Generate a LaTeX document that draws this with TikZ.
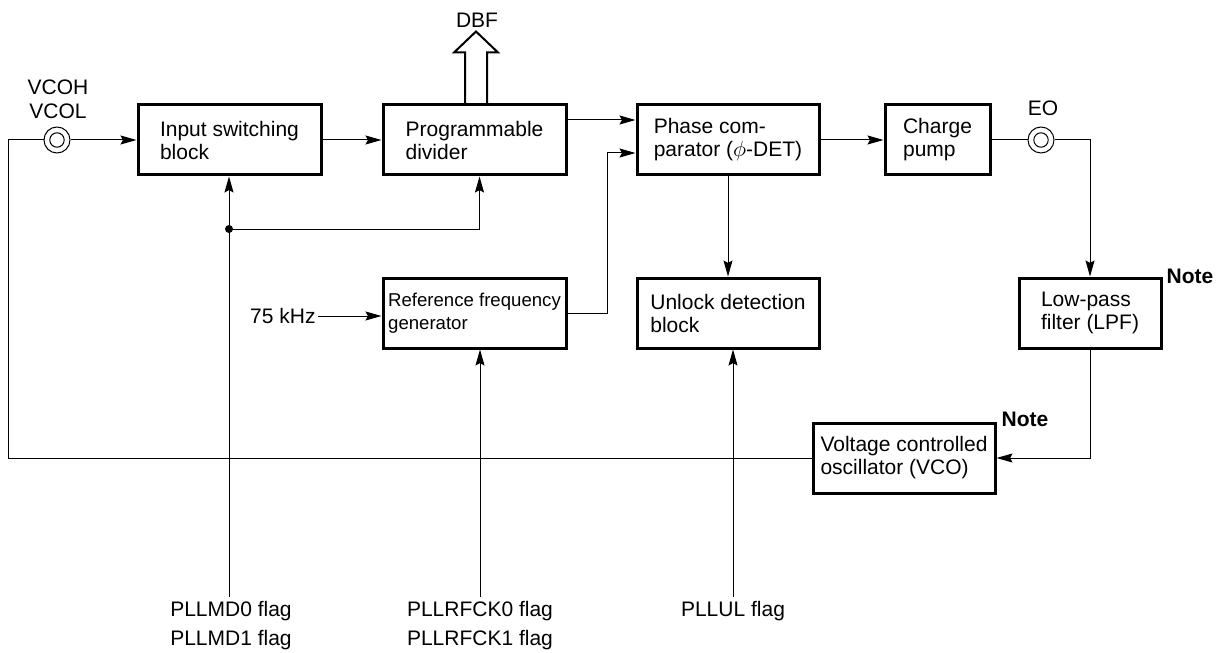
\documentclass[tikz,border=0pt]{standalone}
\usepackage{fontspec}
\setmainfont{Liberation Sans}
\usepackage{tikz}
\usetikzlibrary{arrows.meta}

\begin{document}
\begin{tikzpicture}[
  x=0.5pt, y=-0.5pt,
  block/.style={rectangle, draw, line width=1.5pt, minimum height=35pt, inner sep=0pt, align=left, font=\fontsize{10.5}{11.5}\selectfont},
  jack/.style={circle, draw, line width=0.5pt, minimum size=13pt, inner sep=0pt, path picture={\draw[line width=0.5pt] (path picture bounding box.center) circle (3.6pt);}},
  flag/.style={align=center, inner sep=2pt, font=\fontsize{10.5}{14.5}\selectfont},
  lbl/.style={align=center, inner sep=1pt, font=\fontsize{10.5}{12}\selectfont},
  note/.style={inner sep=1pt, font=\fontsize{10.5}{12}\selectfont\bfseries},
  wire/.style={line width=0.5pt},
  >={Stealth[length=8pt,width=4.5pt,inset=1.2pt]}
]
  \useasboundingbox (0,0) rectangle (1218,652);

  % Top row
  \node[block, minimum width=91.5pt] (inswitch) at (229.5,140) {Input switching\\block};
  \node[block, minimum width=91.5pt] (divider) at (474.5,140) {Programmable\\divider};
  \node[block, minimum width=91pt] (phasecomp) at (728,140) {Phase com-\\parator ($\phi$-DET)};
  \node[block, minimum width=52.5pt] (chargepump) at (937.5,140) {Charge\\pump};

  % Middle row
  \node[block, minimum width=91.5pt, font=\fontsize{9.3}{11.5}\selectfont] (refgen) at (474.5,313) {Reference frequency\\generator};
  \node[block, minimum width=91pt] (unlock) at (728,313) {Unlock detection\\block};
  \node[block, minimum width=71pt] (lpf) at (1090,313) {Low-pass\\filter (LPF)};
  \node[block, minimum width=91pt] (vco) at (904,458) {Voltage controlled\\oscillator (VCO)};

  % Pins and labels
  \node[jack] (vcoh) at (57,140) {};
  \node[lbl] at (58,99) {VCOH\\VCOL};
  \node[jack] (eo) at (1041,140) {};
  \node[lbl] at (1043,108) {EO};
  \node[lbl] at (477,20) {DBF};
  \node[note] at (1190,276) {Note};
  \node[note] at (1025,419) {Note};
  \node[lbl, anchor=east] (clk) at (318,316) {75 kHz};

  % Flags
  \node[flag, anchor=north] (mdflag) at (231,597) {PLLMD0 flag\\PLLMD1 flag};
  \node[flag, anchor=north] (rfflag) at (480,597) {PLLRFCK0 flag\\PLLRFCK1 flag};
  \node[flag, anchor=north] (ulflag) at (733,597) {PLLUL flag};

  \coordinate (mdjoin) at (229,229);
  \coordinate (rfturn) at (607,313);
  \coordinate (fbcorner) at (8,458);

  % Signal path
  \draw[wire, ->] (vcoh.east) -- (inswitch.west);
  \draw[wire, ->] (inswitch.east) -- (divider.west);
  \draw[wire, ->] ([yshift=10pt]divider.east) -- ([yshift=10pt]phasecomp.west);
  \draw[wire, ->] (refgen.east) -- (rfturn) |- ([yshift=-6.5pt]phasecomp.west);
  \draw[wire, ->] (phasecomp.east) -- (chargepump.west);
  \draw[wire, ->] (phasecomp.south) -- (unlock.north);
  \draw[wire] (chargepump.east) -- (eo.west);
  \draw[wire, ->] (eo.east) -| (lpf.north);
  \draw[wire, ->] (lpf.south) |- (vco.east);
  \draw[wire] (vco.west) -- (fbcorner) |- (vcoh.west);
  \draw[wire, ->] (clk.east) -- (clk.east -| refgen.west);

  % Control flags
  \draw[wire, ->] (mdflag.north -| mdjoin) -- (mdjoin |- inswitch.south);
  \draw[wire, ->] (mdjoin) -| ([xshift=2.5pt]divider.south);
  \fill (mdjoin) circle (2pt);
  \draw[wire, ->] (rfflag.north) -- (rfflag.north |- refgen.south);
  \draw[wire, ->] (ulflag.north) -- (ulflag.north |- unlock.south);

  % Data bus out of the divider
  \draw[line width=1pt] ([xshift=-4.75pt]divider.north) -- ++(0,-51) -- ++(-11,0) -- ++(22,-21)
    -- ++(22,21) -- ++(-11,0) -- ++(0,51);
\end{tikzpicture}
\end{document}
